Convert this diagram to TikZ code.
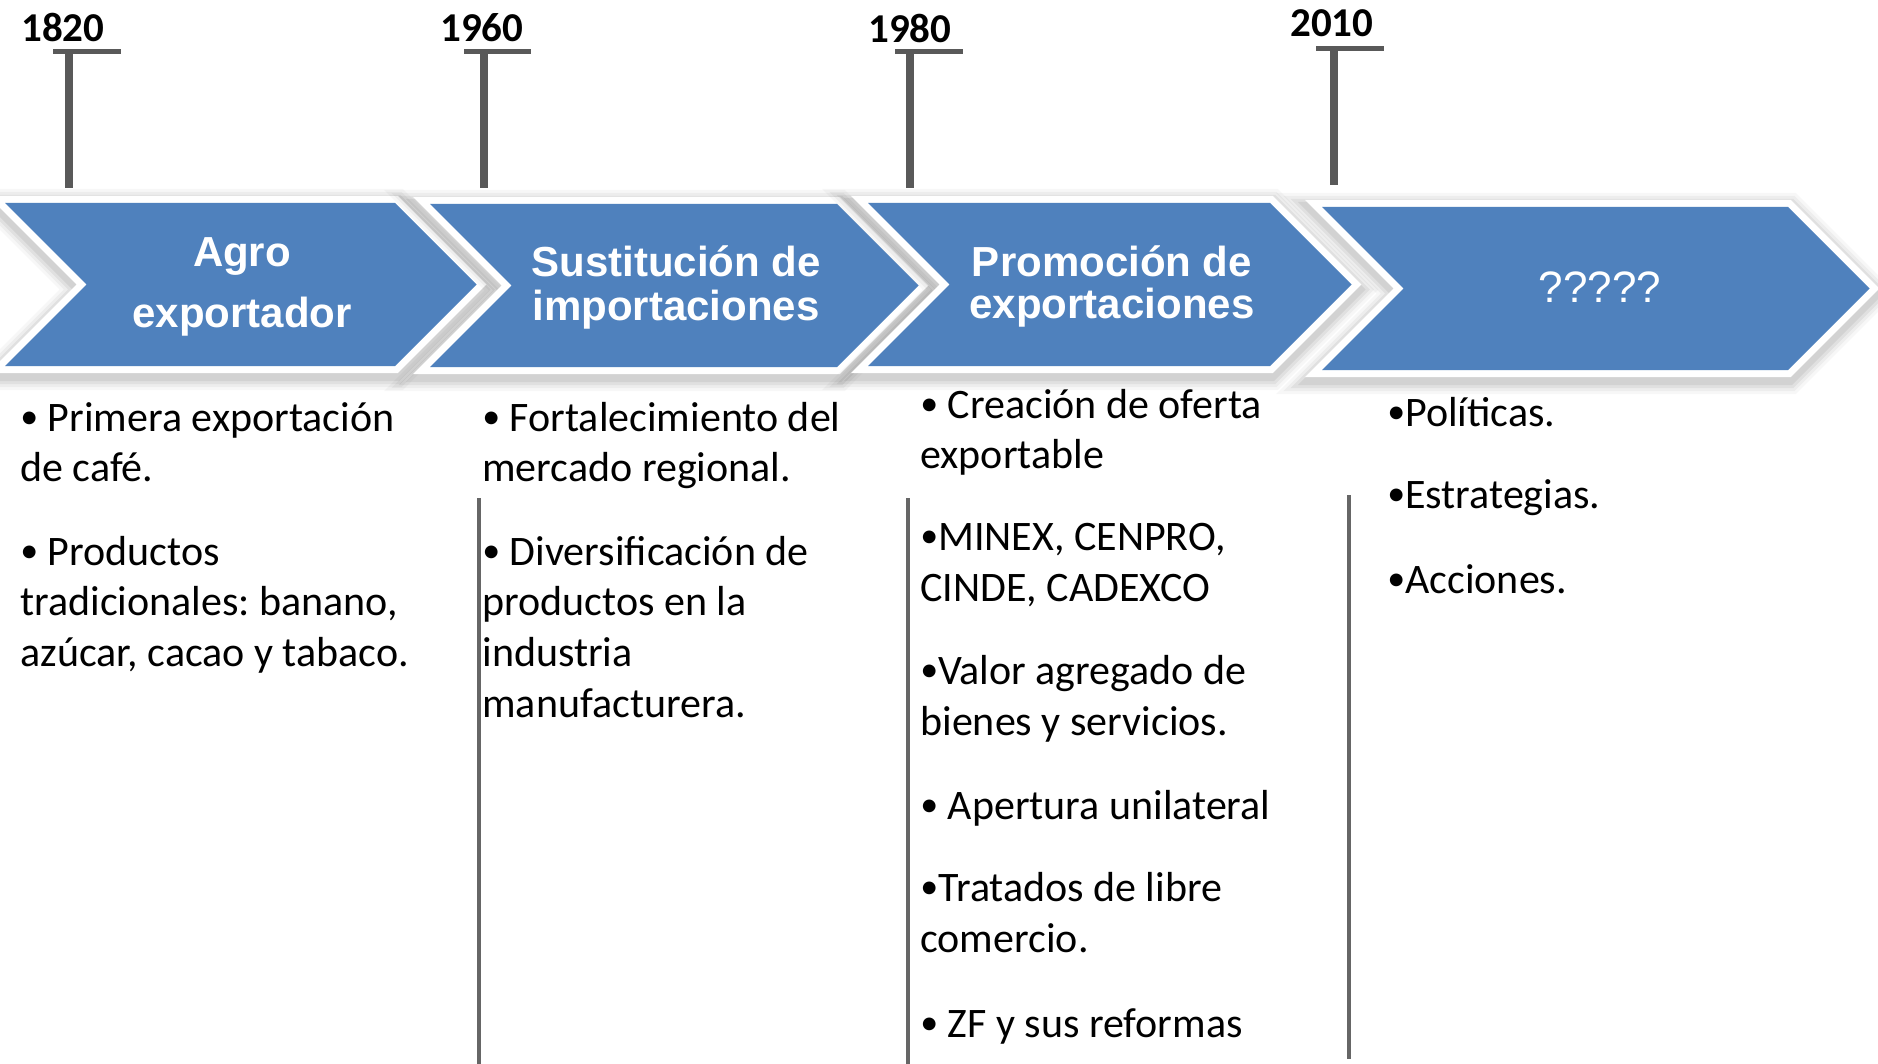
\documentclass[tikz,border=0pt]{standalone}
\usepackage{fontspec}
\setmainfont{Carlito}
\newfontfamily\arialf{Liberation Sans}
\definecolor{chevblue}{HTML}{4F81BD}
\definecolor{bargray}{HTML}{595959}
\definecolor{colgray}{HTML}{666666}
\frenchspacing
\newcommand{\bul}{{\fontsize{18pt}{18pt}\selectfont\raisebox{0.08em}{•}}}
\newcommand{\drawchev}[4]{%
  \pgfmathsetmacro{\chD}{(#4-#3)/2}%
  \pgfmathsetmacro{\chM}{(#4+#3)/2}%
  \pgfmathsetmacro{\chT}{#2+\chD}%
  \pgfmathsetmacro{\chN}{#1+\chD}%
  \foreach \lw/\op in {19/0.03,16/0.04,13/0.05,10/0.06}{%
    \filldraw[black, opacity=\op, line width=\lw pt, line join=miter, yshift=-2.5pt]
      (#1,#3) -- (#2,#3) -- (\chT,\chM) -- (#2,#4) -- (#1,#4) -- (\chN,\chM) -- cycle;
  }%
  \draw[white, line width=7pt, line join=miter, fill=white]
    (#1,#3) -- (#2,#3) -- (\chT,\chM) -- (#2,#4) -- (#1,#4) -- (\chN,\chM) -- cycle;
  \fill[chevblue]
    (#1,#3) -- (#2,#3) -- (\chT,\chM) -- (#2,#4) -- (#1,#4) -- (\chN,\chM) -- cycle;
}
\begin{document}
\begin{tikzpicture}[x=0.5pt,y=-0.5pt,
  yeartxt/.style={anchor=base west, inner sep=0pt, font=\fontsize{20.5pt}{24pt}\selectfont\bfseries},
  body/.style={anchor=base west, inner sep=0pt, font=\fontsize{21pt}{24pt}\selectfont},
  chevtxt/.style={anchor=base, inner sep=0pt, text=white, font=\arialf\fontsize{21pt}{24pt}\selectfont\bfseries},
  qtxt/.style={anchor=base, inner sep=0pt, text=white, font=\arialf\fontsize{22pt}{24pt}\selectfont},
  tbar/.style={draw=bargray, line width=2.5pt},
  tstem/.style={draw=bargray, line width=4pt},
  colline/.style={draw=colgray, line width=2pt},
]
\fill[white] (0,0) rectangle (1878,1064);
\useasboundingbox (0,0) rectangle (1878,1064);

% year markers
\node[yeartxt] (y1820) at (21,42) {1820};
\coordinate (l1820) at (53,52); \coordinate (r1820) at (121,52);
\coordinate (t1820) at (69,52); \coordinate (b1820) at (69,188);
\draw[tbar] (l1820) -- (r1820);
\draw[tstem] (t1820) -- (b1820);

\node[yeartxt] (y1960) at (440,42) {1960};
\coordinate (l1960) at (464,52); \coordinate (r1960) at (531,52);
\coordinate (t1960) at (484,52); \coordinate (b1960) at (484,188);
\draw[tbar] (l1960) -- (r1960);
\draw[tstem] (t1960) -- (b1960);

\node[yeartxt] (y1980) at (868,43) {1980};
\coordinate (l1980) at (895,51.5); \coordinate (r1980) at (963,51.5);
\coordinate (t1980) at (910,51.5); \coordinate (b1980) at (910,188);
\draw[tbar] (l1980) -- (r1980);
\draw[tstem] (t1980) -- (b1980);

\node[yeartxt] (y2010) at (1290,37) {2010};
\coordinate (l2010) at (1316,48.5); \coordinate (r2010) at (1384,48.5);
\coordinate (t2010) at (1334,48.5); \coordinate (b2010) at (1334,185);
\draw[tbar] (l2010) -- (r2010);
\draw[tstem] (t2010) -- (b2010);

% chevrons
\drawchev{5}{395}{203}{366}
\node[chevtxt] (c1a) at (242,266) {Agro};
\node[chevtxt] (c1b) at (242,327) {exportador};

\drawchev{430}{837}{204}{367}
\node[chevtxt] (c2a) at (676,277) {Sustitución de};
\node[chevtxt] (c2b) at (676,320) {importaciones};

\drawchev{868}{1270}{203}{366}
\node[chevtxt] (c3a) at (1112,277) {Promoción de};
\node[chevtxt] (c3b) at (1112,318) {exportaciones};

\drawchev{1322}{1788}{207}{370}
\node[qtxt] (c4) at (1600,302) {?????};

% column separators
\coordinate (s2t) at (479,498); \coordinate (s2b) at (479,1064);
\coordinate (s3t) at (908,498); \coordinate (s3b) at (908,1064);
\coordinate (s4t) at (1349,495); \coordinate (s4b) at (1349,1059);
\draw[colline] (s2t) -- (s2b);
\draw[colline] (s3t) -- (s3b);
\draw[colline] (s4t) -- (s4b);

% column 1
\node[body] (a1) at (20,431) {\bul{} Primera exportación};
\node[body] (a2) at (20,481) {de café.};
\node[body] (a3) at (20,565) {\bul{} Productos};
\node[body] (a4) at (20,615) {tradicionales: banano,};
\node[body] (a5) at (20,666) {azúcar, cacao y tabaco.};

% column 2
\node[body] (b1) at (482,431) {\bul{} Fortalecimiento del};
\node[body] (b2) at (482,481) {mercado regional.};
\node[body] (b3) at (482,565) {\bul{} Diversificación de};
\node[body] (b4) at (482,615) {productos en la};
\node[body] (b5) at (482,666) {industria};
\node[body] (b6) at (482,717) {manufacturera.};

% column 3
\node[body] (d1) at (920,418) {\bul{} Creación de oferta};
\node[body] (d2) at (920,468) {exportable};
\node[body] (d3) at (920,550) {\bul MINEX, CENPRO,};
\node[body] (d4) at (920,601) {CINDE, CADEXCO};
\node[body] (d5) at (920,684) {\bul Valor agregado de};
\node[body] (d6) at (920,735) {bienes y servicios.};
\node[body] (d7) at (920,819) {\bul{} Apertura unilateral};
\node[body] (d8) at (920,901) {\bul Tratados de libre};
\node[body] (d9) at (920,952) {comercio.};
\node[body] (d10) at (920,1037) {\bul{} ZF y sus reformas};

% column 4
\node[body] (e1) at (1387,426) {\bul Políticas.};
\node[body] (e2) at (1387,508) {\bul Estrategias.};
\node[body] (e3) at (1387,593) {\bul Acciones.};
\end{tikzpicture}
\end{document}
